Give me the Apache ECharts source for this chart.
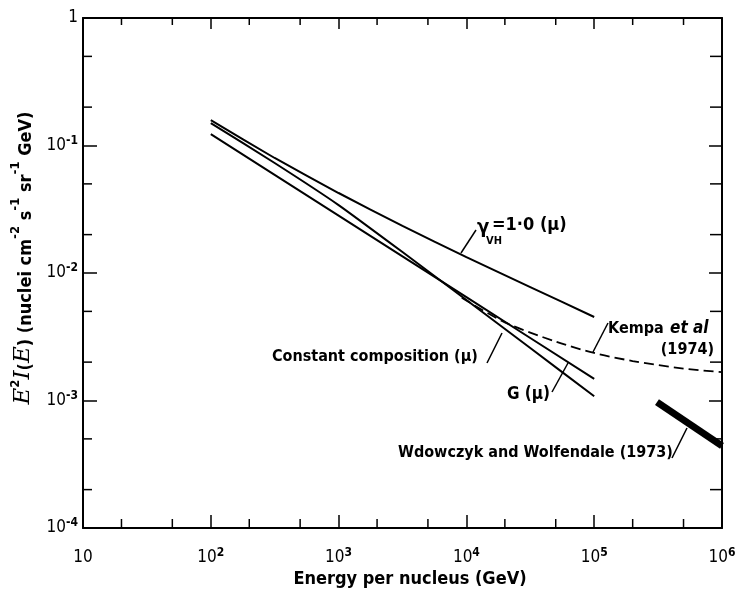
<!DOCTYPE html>
<html><head><meta charset="utf-8">
<script src="https://cdn.jsdelivr.net/npm/echarts@6/dist/echarts.min.js"></script>
<style>html,body{margin:0;padding:0;background:#fff}#c{width:741px;height:592px}</style>
</head><body><div id="c"></div>
<script>
// ---- data ----
const energyPoints = [1e2, 3.16e2, 1e3, 3.16e3, 1e4, 3.16e4, 1e5];
const gammaVH = [0.158, 0.0798, 0.0424, 0.0234, 0.0133, 0.00776, 0.00452];
const constantComposition = [0.150, 0.0729, 0.0341, 0.0146, 0.00614, 0.00258, 0.00108];
const gModel = [0.123, 0.0589, 0.0282, 0.0135, 0.00646, 0.00309, 0.00148];
const kempaEnergy = [9.2e3, 2e4, 5e4, 1e5, 2e5, 5e5, 1e6];
const kempaFlux = [0.0064, 0.0041, 0.0029, 0.00236, 0.00204, 0.00178, 0.00167];
const wwEnergy = [3.1e5, 1e6];
const wwFlux = [9.7e-4, 4.4e-4];
const xMinorTicks = [20, 50, 200, 500, 2e3, 5e3, 2e4, 5e4, 2e5, 5e5];
const yMinorTicks = [2e-4, 5e-4, 2e-3, 5e-3, 2e-2, 5e-2, 0.2, 0.5];

const FONT = '"DejaVu Sans Condensed", "DejaVu Sans", sans-serif';
const zip = (xs, ys) => xs.map((x, i) => [x, ys[i]]);
function powLabel(v) {
  const e = Math.round(Math.log10(v));
  if (e === 0) return '{b|1}';
  if (e === 1) return '{b|10}';
  return '{b|10}{s|' + (e < 0 ? '-' + (-e) : e) + '}';
}
const labelRich = {
  b: { fontSize: 17, fontFamily: FONT, color: '#000', lineHeight: 22 },
  s: { fontSize: 12, fontFamily: FONT, color: '#000', verticalAlign: 'top', lineHeight: 12, fontWeight: 'bold' }
};
const axisLine = { show: true, lineStyle: { color: '#000', width: 2 } };
const lineStyleBase = { color: '#000', width: 2 };

const chart = echarts.init(document.getElementById('c'), null, { renderer: 'canvas' });
const tickStyle = { stroke: '#000', lineWidth: 1.5 };
const option = {
  backgroundColor: '#fff',
  animation: false,
  grid: { left: 83, right: 19, top: 18, bottom: 64, containLabel: false, outerBoundsMode: 'none' },
  xAxis: [
    { type: 'log', logBase: 10, min: 10, max: 1e6, position: 'bottom', axisLine,
      axisTick: { show: true, inside: true, length: 13, lineStyle: { color: '#000', width: 1.5 } },
      axisLabel: { margin: 19, formatter: powLabel, rich: labelRich, fontSize: 17, fontFamily: FONT, color: '#000' },
      splitLine: { show: false }, minorTick: { show: false } },
    { type: 'log', logBase: 10, min: 10, max: 1e6, position: 'top', axisLine,
      axisTick: { show: true, inside: true, length: 11, lineStyle: { color: '#000', width: 1.5 } },
      axisLabel: { show: false }, splitLine: { show: false } }
  ],
  yAxis: [
    { type: 'log', logBase: 10, min: 1e-4, max: 1, position: 'left', axisLine,
      axisTick: { show: true, inside: true, length: 14, lineStyle: { color: '#000', width: 1.5 } },
      axisLabel: { margin: 5, formatter: powLabel, rich: labelRich, fontSize: 17, fontFamily: FONT, color: '#000' },
      splitLine: { show: false } },
    { type: 'log', logBase: 10, min: 1e-4, max: 1, position: 'right', axisLine,
      axisTick: { show: true, inside: true, length: 13, lineStyle: { color: '#000', width: 1.5 } },
      axisLabel: { show: false }, splitLine: { show: false } }
  ],
  series: [
    { name: 'gammaVH', type: 'line', data: zip(energyPoints, gammaVH), showSymbol: false, smooth: 0.15,
      lineStyle: lineStyleBase, z: 3 },
    { name: 'Constant composition', type: 'line', data: zip(energyPoints, constantComposition), showSymbol: false, smooth: 0.15,
      lineStyle: lineStyleBase, z: 3 },
    { name: 'G', type: 'line', data: zip(energyPoints, gModel), showSymbol: false,
      lineStyle: lineStyleBase, z: 3 },
    { name: 'Kempa', type: 'line', data: zip(kempaEnergy, kempaFlux), showSymbol: false, smooth: 0.3,
      lineStyle: { color: '#000', width: 1.8, type: [10, 5] }, z: 3 },
    { name: 'Wdowczyk', type: 'line', data: zip(wwEnergy, wwFlux), showSymbol: false,
      lineStyle: { color: '#000', width: 7 }, z: 3 },
    { name: 'minorTicks', type: 'custom', coordinateSystem: 'cartesian2d', clip: false, silent: true, z: 5,
      renderItem: function (params, api) {
        const kind = api.value(2);
        const bl = api.coord([10, 1e-4]);
        const tr = api.coord([1e6, 1]);
        if (kind === 0) {
          const x = api.coord([api.value(0), 1e-4])[0];
          return { type: 'group', children: [
            { type: 'line', shape: { x1: x, y1: bl[1], x2: x, y2: bl[1] - 9 }, style: tickStyle },
            { type: 'line', shape: { x1: x, y1: tr[1], x2: x, y2: tr[1] + 7 }, style: tickStyle }
          ] };
        }
        const y = api.coord([10, api.value(1)])[1];
        return { type: 'group', children: [
          { type: 'line', shape: { x1: bl[0], y1: y, x2: bl[0] + 9, y2: y }, style: tickStyle },
          { type: 'line', shape: { x1: tr[0], y1: y, x2: tr[0] - 12, y2: y }, style: tickStyle }
        ] };
      },
      data: xMinorTicks.map(v => [v, 1e-4, 0]).concat(yMinorTicks.map(v => [10, v, 1]))
    }
  ],
  graphic: []
};
chart.setOption(option);

// ---- annotations ----
const txt = (x, y, text, extra) => Object.assign({ type: 'text', x, y, silent: true,
  style: Object.assign({ text, fill: '#000', font: 'bold 16px ' + FONT, align: 'left', verticalAlign: 'middle' }, extra || {}) });
const seg = (x1, y1, x2, y2) => ({ type: 'line', silent: true, shape: { x1, y1, x2, y2 }, style: { stroke: '#000', lineWidth: 1.5 } });
const graphics = [
  txt(477, 228, 'γ', { font: 'bold 20px ' + FONT }),
  txt(486, 241, 'VH', { font: 'bold 11px ' + FONT }),
  txt(492, 225, '=1·0 (μ)', { font: 'bold 18px ' + FONT }),
  seg(461, 253, 476, 230),
  txt(608, 329, 'Kempa', { font: 'bold 16px ' + FONT }),
  txt(670, 329, 'et al', { font: 'italic bold 17px ' + FONT }),
  txt(714, 350, '(1974)', { align: 'right' }),
  seg(593, 352, 608, 323),
  txt(272, 357, 'Constant composition (μ)'),
  seg(487, 363, 502, 333),
  txt(507, 395, 'G (μ)', { font: 'bold 17px ' + FONT }),
  seg(552, 392, 568, 363),
  txt(398, 453, 'Wdowczyk and Wolfendale (1973)'),
  seg(672, 458, 687, 428),
  txt(410, 579, 'Energy per nucleus (GeV)', { align: 'center', font: 'bold 18px ' + FONT }),
  { type: 'text', x: 22, y: 258, rotation: Math.PI / 2, silent: true,
    style: { text: '{e|E}{s|2}{e|I}{n|(}{e|E}{n|) (nuclei cm}{s|-2}{n| s}{s|-1}{n| sr}{s|-1}{n| GeV)}',
      align: 'center', verticalAlign: 'middle', fill: '#000',
      rich: {
        e: { font: 'italic 23px "DejaVu Serif", serif', lineHeight: 26, verticalAlign: 'bottom' },
        n: { font: 'bold 18px ' + FONT, lineHeight: 26, verticalAlign: 'bottom' },
        s: { font: 'bold 13px ' + FONT, lineHeight: 13, verticalAlign: 'top' }
      } } }
];
chart.setOption({ graphic: graphics });
</script></body></html>
